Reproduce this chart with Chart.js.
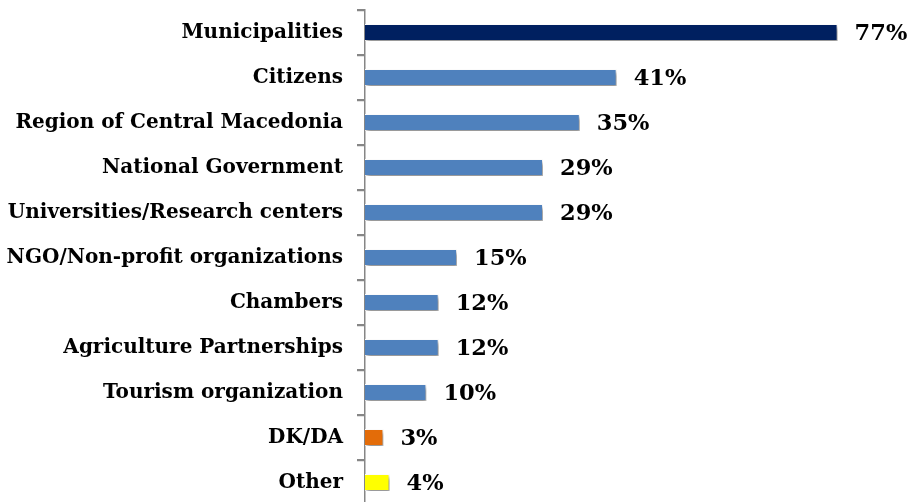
<!DOCTYPE html>
<html>
<head>
<meta charset="utf-8">
<script src="https://cdn.jsdelivr.net/npm/chart.js@4/dist/chart.umd.min.js"></script>
<style>
html,body{margin:0;padding:0;background:#fff;overflow:hidden;}
#wrap{position:relative;width:914px;height:505px;}
</style>
</head>
<body>
<div id="wrap"><canvas id="c"></canvas></div>
<script>
const categories = ["Municipalities","Citizens","Region of Central Macedonia","National Government","Universities/Research centers","NGO/Non-profit organizations","Chambers","Agriculture Partnerships","Tourism organization","DK/DA","Other"];
const values = [77,41,35,29,29,15,12,12,10,3,4];
const barColors = ["#002060","#4F81BD","#4F81BD","#4F81BD","#4F81BD","#4F81BD","#4F81BD","#4F81BD","#4F81BD","#E36C09","#FFFF00"];

const shadowPlugin = {
  id:'shadow',
  beforeDatasetDraw(chart){
    const ctx = chart.ctx;
    ctx.save();
    ctx.shadowColor='rgba(0,0,0,0.45)';
    ctx.shadowBlur=4;
    ctx.shadowOffsetX=2;
    ctx.shadowOffsetY=3;
  },
  afterDatasetDraw(chart){ chart.ctx.restore(); }
};
const tickPlugin = {
  id:'ticksDraw',
  afterDraw(chart){
    const ctx = chart.ctx;
    const s = chart.scales.y;
    const n = categories.length;
    const band = (s.getPixelForValue(1) - s.getPixelForValue(0));
    const x = s.right;
    ctx.save();
    ctx.strokeStyle = '#868686';
    ctx.lineWidth = 1.5;
    ctx.beginPath();
    for(let i=0;i<=n;i++){
      const y = Math.round(s.getPixelForValue(i) - band/2)+0.5;
      ctx.moveTo(x-8,y); ctx.lineTo(x,y);
    }
    ctx.stroke();
    ctx.restore();
  }
};
const labelPlugin = {
  id:'vlabels',
  afterDatasetsDraw(chart){
    const ctx = chart.ctx;
    const meta = chart.getDatasetMeta(0);
    ctx.save();
    ctx.font = "bold 22.5px 'DejaVu Serif'";
    ctx.fillStyle = '#000';
    ctx.textBaseline = 'middle';
    ctx.textAlign = 'left';
    meta.data.forEach((bar,i)=>{
      ctx.fillText(values[i]+'%', bar.x+17, bar.y+2);
    });
    ctx.restore();
  }
};

new Chart(document.getElementById('c'),{
  type:'bar',
  data:{labels:categories,datasets:[{data:values,backgroundColor:barColors,borderColor:'#ffffff',borderWidth:1,barPercentage:0.38,categoryPercentage:1}]},
  options:{
    indexAxis:'y',
    responsive:true,maintainAspectRatio:false,animation:false,
    layout:{padding:{top:10,right:58,bottom:0,left:0}},
    plugins:{legend:{display:false},tooltip:{enabled:false}},
    scales:{
      x:{display:false,min:0,max:80},
      y:{
        offset:true,
        afterFit(scale){ scale.width = 365; scale.paddingTop = 0; scale.paddingBottom = 0; },
        grid:{display:true,drawOnChartArea:false,offset:true,tickLength:8,color:'#868686',tickColor:'#868686',lineWidth:1.5},
        border:{display:true,color:'#868686',width:1.5},
        ticks:{color:'#000',font:{family:"'DejaVu Serif'",weight:'bold',size:20},padding:14}
      }
    }
  },
  plugins:[shadowPlugin,tickPlugin,labelPlugin]
});
</script>
</body>
</html>
